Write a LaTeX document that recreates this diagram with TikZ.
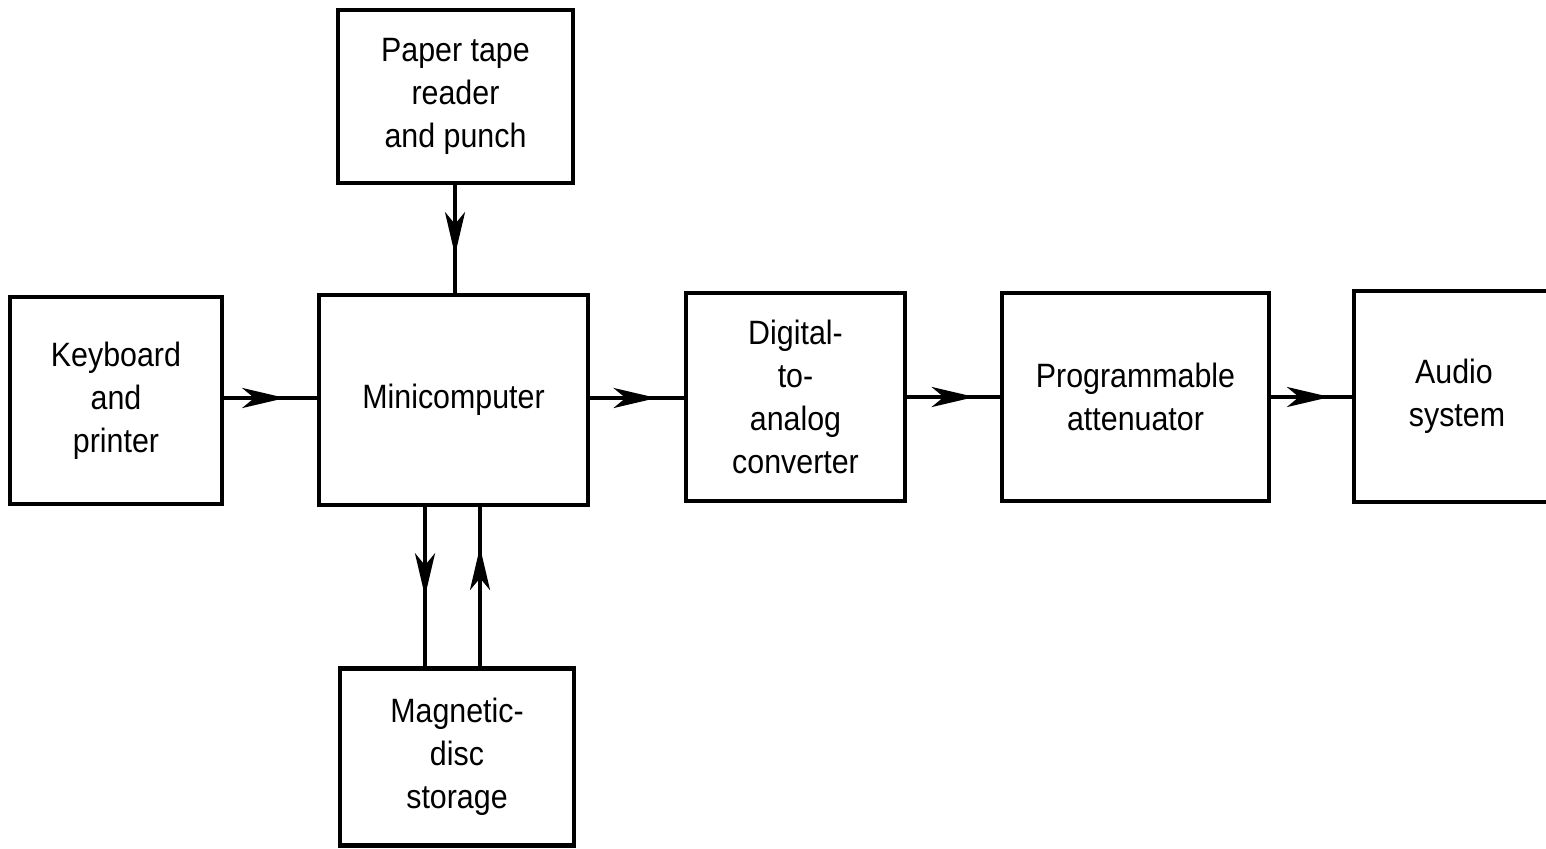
\documentclass[tikz,border=0pt]{standalone}
\usepackage{fontspec}
\setmainfont[FakeStretch=0.9]{Liberation Sans}
\usetikzlibrary{arrows.meta,decorations.markings}
\tikzset{
  blk/.style={draw, line width=1.3pt, inner sep=0pt, align=center,
    font=\fontsize{9.6pt}{12.2pt}\selectfont},
  conn/.style={line width=1.1pt},
  midarrow/.style={conn, postaction={decorate}, decoration={markings,
    mark=at position #1 with {\arrow{Stealth[length=4.3mm,width=2.0mm,inset=1.2mm]}}}}
}
\begin{document}
\begin{tikzpicture}[x=0.01cm,y=-0.01cm]
\useasboundingbox (0,0) rectangle (1546,848);
\node[blk, minimum width=2.35cm, minimum height=1.73cm] (paper) at (455.5,96.5) {Paper tape\\reader\\and punch};
\node[blk, minimum width=2.12cm, minimum height=2.07cm] (kb) at (116,400.5) {Keyboard\\and\\printer};
\node[blk, minimum width=2.69cm, minimum height=2.10cm] (mini) at (453.5,400) {Minicomputer};
\node[blk, minimum width=2.19cm, minimum height=2.08cm] (dac) at (795.5,397) {Digital-\\to-\\analog\\converter};
\node[blk, minimum width=2.67cm, minimum height=2.08cm] (att) at (1135.5,397) {Programmable\\attenuator};
\node[blk, minimum width=2.06cm, minimum height=2.11cm, text width=1.92cm] (audio) at (1457,396.5) {\hspace*{-0.06cm}Audio\\system};
\node[blk, minimum width=2.34cm, minimum height=1.77cm] (disc) at (457,757) {Magnetic-\\disc\\storage};

\draw[midarrow=0.66] (kb.east |- 0,398) -- (mini.west |- 0,398);
\draw[midarrow=0.71] (mini.east |- 0,398) -- (dac.west |- 0,398);
\draw[midarrow=0.73] (dac.east |- 0,397) -- (att.west |- 0,397);
\draw[midarrow=0.73] (att.east |- 0,397) -- (audio.west |- 0,397);
\draw[midarrow=0.65] (paper.south -| 455,0) -- (mini.north -| 455,0);
\draw[midarrow=0.56] (mini.south -| 425,0) -- (disc.north -| 425,0);
\draw[midarrow=0.75] (disc.north -| 480,0) -- (mini.south -| 480,0);
\end{tikzpicture}
\end{document}
